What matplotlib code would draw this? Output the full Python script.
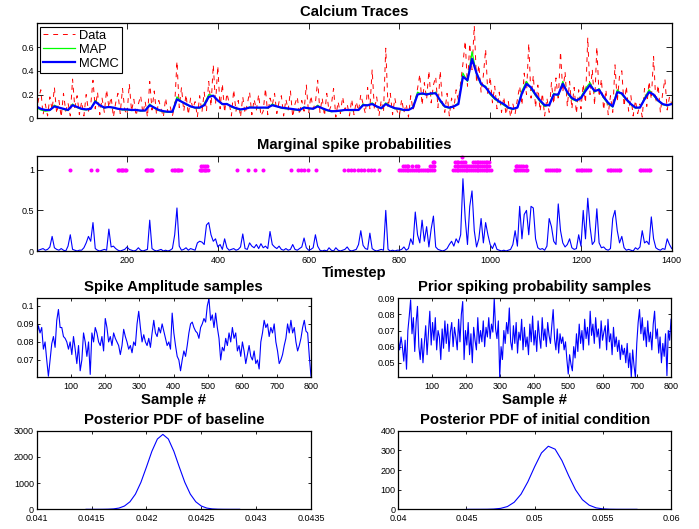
import numpy as np
import matplotlib
matplotlib.use("Agg")
import matplotlib.pyplot as plt

plt.rcParams["font.family"] = ["Liberation Sans", "DejaVu Sans"]

# ─── Calcium traces (every 5 / 10 timesteps) ─────────────────────────────────
data_trace = [
    0.05, 0.16, 0.24, 0.03, 0.12, 0.02, 0.18, 0.07, 0.26, 0.04, 0.15, 0.01, 0.21, 0.06, 0.13, 0.02, 0.33, 0.09, 0.19, 0.03,
    0.14, 0.02, 0.20, 0.06, 0.11, 0.32, 0.08, 0.22, 0.03, 0.17, 0.05, 0.24, 0.09, 0.18, 0.01, 0.13, 0.21, 0.04, 0.25, 0.07,
    0.03, 0.29, 0.06, 0.16, 0.02, 0.12, 0.19, 0.04, 0.14, 0.01, 0.31, 0.07, 0.23, 0.03, 0.15, 0.08, 0.01, 0.17, 0.05, 0.10,
    0.02, 0.11, 0.48, 0.09, 0.26, 0.06, 0.20, 0.03, 0.17, 0.08, 0.14, 0.01, 0.19, 0.05, 0.22, 0.06, 0.31, 0.10, 0.45, 0.12,
    0.44, 0.08, 0.29, 0.05, 0.21, 0.13, 0.02, 0.24, 0.06, 0.15, 0.01, 0.18, 0.04, 0.12, 0.22, 0.03, 0.16, 0.07, 0.20, 0.02,
    0.06, 0.25, 0.03, 0.17, 0.11, 0.21, 0.04, 0.14, 0.19, 0.02, 0.16, 0.07, 0.23, 0.01, 0.12, 0.18, 0.03, 0.15, 0.06, 0.28,
    0.04, 0.19, 0.08, 0.13, 0.32, 0.05, 0.17, 0.02, 0.21, 0.06, 0.11, 0.25, 0.01, 0.14, 0.04, 0.18, 0.07, 0.12, 0.02, 0.16,
    0.03, 0.14, 0.06, 0.20, 0.12, 0.04, 0.26, 0.08, 0.41, 0.07, 0.18, 0.02, 0.15, 0.05, 0.59, 0.09, 0.21, 0.03, 0.17, 0.06,
    0.02, 0.16, 0.05, 0.12, 0.01, 0.19, 0.07, 0.14, 0.25, 0.37, 0.11, 0.30, 0.16, 0.40, 0.13, 0.28, 0.35, 0.09, 0.40, 0.12,
    0.05, 0.21, 0.02, 0.17, 0.08, 0.24, 0.15, 0.30, 0.46, 0.65, 0.27, 0.63, 0.41, 0.78, 0.30, 0.45, 0.22, 0.36, 0.58, 0.19,
    0.35, 0.13, 0.27, 0.08, 0.22, 0.05, 0.18, 0.03, 0.14, 0.01, 0.12, 0.04, 0.16, 0.27, 0.11, 0.38, 0.20, 0.63, 0.17, 0.36,
    0.09, 0.28, 0.06, 0.21, 0.02, 0.17, 0.05, 0.30, 0.12, 0.34, 0.15, 0.56, 0.22, 0.39, 0.10, 0.31, 0.08, 0.26, 0.04, 0.24,
    0.08, 0.29, 0.13, 0.68, 0.20, 0.41, 0.11, 0.60, 0.18, 0.33, 0.07, 0.24, 0.03, 0.19, 0.05, 0.45, 0.14, 0.36, 0.40, 0.10,
    0.27, 0.06, 0.19, 0.02, 0.15, 0.04, 0.12, 0.01, 0.25, 0.10, 0.31, 0.16, 0.52, 0.13, 0.28, 0.05, 0.21, 0.33, 0.07, 0.18,
    0.12,
]
map_trace = [
    0.09, 0.07, 0.06, 0.065, 0.11, 0.09, 0.075, 0.065, 0.12, 0.09,
    0.075, 0.07, 0.08, 0.15, 0.11, 0.085, 0.10, 0.085, 0.08, 0.07,
    0.07, 0.065, 0.07, 0.06, 0.065, 0.12, 0.085, 0.065, 0.055, 0.05,
    0.05, 0.18, 0.14, 0.115, 0.10, 0.085, 0.085, 0.12, 0.20, 0.19,
    0.15, 0.115, 0.125, 0.095, 0.08, 0.07, 0.08, 0.095, 0.09, 0.085,
    0.09, 0.085, 0.12, 0.10, 0.085, 0.08, 0.08, 0.07, 0.065, 0.095,
    0.08, 0.08, 0.11, 0.08, 0.065, 0.055, 0.06, 0.06, 0.07, 0.065,
    0.065, 0.07, 0.12, 0.105, 0.13, 0.095, 0.08, 0.13, 0.10, 0.08,
    0.075, 0.065, 0.07, 0.095, 0.22, 0.20, 0.21, 0.20, 0.22, 0.14,
    0.095, 0.085, 0.10, 0.13, 0.38, 0.31, 0.56, 0.37, 0.28, 0.27,
    0.20, 0.16, 0.135, 0.11, 0.085, 0.075, 0.09, 0.23, 0.31, 0.25,
    0.19, 0.14, 0.10, 0.115, 0.21, 0.19, 0.31, 0.21, 0.16, 0.145,
    0.18, 0.25, 0.30, 0.22, 0.25, 0.17, 0.12, 0.095, 0.24, 0.20,
    0.155, 0.115, 0.085, 0.09, 0.17, 0.24, 0.19, 0.145, 0.115, 0.105,
    0.125,
]
mcmc_trace = [
    0.10, 0.08, 0.07, 0.07, 0.10, 0.09, 0.08, 0.07, 0.11, 0.095,
    0.08, 0.075, 0.08, 0.14, 0.11, 0.09, 0.095, 0.09, 0.08, 0.075,
    0.075, 0.07, 0.07, 0.065, 0.065, 0.11, 0.09, 0.07, 0.06, 0.055,
    0.055, 0.16, 0.14, 0.12, 0.10, 0.09, 0.09, 0.11, 0.18, 0.19,
    0.15, 0.12, 0.12, 0.10, 0.085, 0.075, 0.08, 0.09, 0.09, 0.09,
    0.09, 0.09, 0.11, 0.10, 0.09, 0.085, 0.08, 0.075, 0.07, 0.09,
    0.085, 0.08, 0.10, 0.085, 0.07, 0.06, 0.06, 0.065, 0.07, 0.07,
    0.07, 0.07, 0.11, 0.11, 0.12, 0.10, 0.085, 0.12, 0.10, 0.085,
    0.08, 0.07, 0.07, 0.09, 0.20, 0.21, 0.20, 0.21, 0.21, 0.15,
    0.10, 0.09, 0.10, 0.12, 0.35, 0.32, 0.50, 0.38, 0.29, 0.26,
    0.21, 0.17, 0.14, 0.12, 0.09, 0.08, 0.09, 0.21, 0.29, 0.26,
    0.20, 0.15, 0.11, 0.11, 0.20, 0.20, 0.29, 0.22, 0.17, 0.15,
    0.17, 0.23, 0.28, 0.23, 0.24, 0.18, 0.13, 0.10, 0.22, 0.21,
    0.16, 0.12, 0.09, 0.09, 0.16, 0.22, 0.20, 0.15, 0.12, 0.11,
    0.12,
]

# ─── Marginal spike probability (every 5 timesteps) ─────────────────────────
spike_prob = [
    0.00, 0.01, 0.02, 0.03, 0.01, 0.02, 0.05, 0.18, 0.04, 0.02, 0.01, 0.03, 0.01, 0.00, 0.06, 0.20, 0.02, 0.01, 0.00, 0.01,
    0.01, 0.04, 0.10, 0.18, 0.12, 0.35, 0.03, 0.01, 0.00, 0.01, 0.02, 0.01, 0.27, 0.05, 0.06, 0.03, 0.01, 0.00, 0.01, 0.02,
    0.05, 0.02, 0.01, 0.00, 0.01, 0.04, 0.01, 0.00, 0.01, 0.02, 0.38, 0.03, 0.01, 0.00, 0.01, 0.02, 0.00, 0.01, 0.00, 0.01,
    0.03, 0.20, 0.53, 0.06, 0.01, 0.02, 0.04, 0.01, 0.03, 0.02, 0.01, 0.10, 0.12, 0.11, 0.08, 0.32, 0.35, 0.20, 0.12, 0.15,
    0.05, 0.08, 0.02, 0.15, 0.04, 0.01, 0.02, 0.03, 0.01, 0.02, 0.05, 0.21, 0.03, 0.02, 0.10, 0.06, 0.04, 0.08, 0.03, 0.09,
    0.04, 0.06, 0.03, 0.24, 0.08, 0.05, 0.03, 0.06, 0.02, 0.01, 0.03, 0.01, 0.02, 0.08, 0.02, 0.01, 0.03, 0.05, 0.16, 0.04,
    0.01, 0.02, 0.04, 0.20, 0.06, 0.01, 0.00, 0.01, 0.00, 0.04, 0.01, 0.00, 0.04, 0.01, 0.00, 0.01, 0.02, 0.05, 0.01, 0.00,
    0.01, 0.02, 0.08, 0.25, 0.07, 0.03, 0.02, 0.22, 0.03, 0.01, 0.00, 0.01, 0.02, 0.01, 0.50, 0.02, 0.00, 0.01, 0.00, 0.01,
    0.01, 0.02, 0.05, 0.01, 0.03, 0.15, 0.08, 0.48, 0.20, 0.10, 0.38, 0.12, 0.30, 0.05, 0.27, 0.43, 0.05, 0.02, 0.01, 0.00,
    0.01, 0.03, 0.08, 0.12, 0.06, 0.15, 0.10, 0.20, 0.89, 0.40, 0.08, 0.55, 0.74, 0.25, 0.05, 0.15, 0.40, 0.10, 0.35, 0.20,
    0.08, 0.03, 0.10, 0.02, 0.01, 0.00, 0.01, 0.00, 0.01, 0.02, 0.08, 0.25, 0.06, 0.55, 0.15, 0.45, 0.50, 0.20, 0.55, 0.53,
    0.15, 0.04, 0.02, 0.03, 0.01, 0.06, 0.40, 0.30, 0.12, 0.08, 0.58, 0.25, 0.10, 0.05, 0.08, 0.15, 0.04, 0.02, 0.03, 0.20,
    0.06, 0.50, 0.15, 0.65, 0.30, 0.08, 0.12, 0.52, 0.10, 0.04, 0.05, 0.02, 0.01, 0.03, 0.40, 0.50, 0.25, 0.10, 0.18, 0.04,
    0.01, 0.02, 0.01, 0.00, 0.04, 0.02, 0.05, 0.25, 0.10, 0.12, 0.08, 0.42, 0.15, 0.04, 0.02, 0.01, 0.03, 0.02, 0.15, 0.08,
    0.03,
]

# sampled spike times, stacked by how many samples agree
spikes_lvl1 = [75, 120, 134, 180, 183, 186, 189, 192, 195, 198, 241, 244, 247, 250, 253, 256,
               300, 303, 306, 309, 312, 315, 318, 360, 363, 366, 369, 372, 375, 378,
               443, 467, 481, 499, 562, 576, 583, 590, 599, 617,
               679, 686, 694, 701, 708, 716, 723, 730, 738, 745, 755,
               800, 804, 808, 812, 816, 820, 824, 828, 832, 836, 840, 844, 848, 852, 856, 860,
               864, 868, 872, 876, 918, 922, 926, 930, 934, 938, 942, 946, 950, 954, 958, 962,
               966, 970, 974, 978, 982, 986, 990, 994, 998, 1002,
               1054, 1058, 1062, 1066, 1070, 1074, 1078, 1082,
               1124, 1128, 1132, 1136, 1140, 1144, 1148, 1152,
               1191, 1195, 1199, 1203, 1207, 1211, 1215, 1219,
               1259, 1263, 1267, 1271, 1275, 1279, 1283, 1287,
               1329, 1333, 1337, 1341, 1345, 1349, 1353]
spikes_lvl2 = [364, 368, 372, 376, 808, 812, 816, 820, 828, 836, 842, 868, 872, 876,
               922, 926, 930, 934, 938, 942, 946, 950, 954, 958, 962, 966, 970, 974,
               978, 982, 986, 990, 994, 998, 1056, 1060, 1064, 1068, 1072, 1078]
spikes_lvl3 = [874, 876, 922, 926, 930, 936, 940, 944, 962, 966, 970, 974, 978,
               982, 986, 990, 994, 998]
spikes_lvl4 = [938]
spike_levels = [1.0, 1.05, 1.10, 1.155]

# ─── MCMC sample traces ─────────────────────────────────────────────────────
amp_samples = [
    0.083, 0.089, 0.085, 0.088, 0.076, 0.080, 0.070, 0.061, 0.070, 0.079, 0.083, 0.077, 0.092, 0.098, 0.088,
    0.088, 0.083, 0.082, 0.080, 0.076, 0.080, 0.073, 0.083, 0.076, 0.068, 0.078, 0.064, 0.070, 0.085, 0.080,
    0.072, 0.080, 0.062, 0.085, 0.080, 0.088, 0.085, 0.080, 0.078, 0.083, 0.075, 0.093, 0.088, 0.080, 0.083,
    0.078, 0.085, 0.082, 0.080, 0.078, 0.073, 0.078, 0.087, 0.083, 0.080, 0.076, 0.078, 0.074, 0.080, 0.078,
    0.090, 0.097, 0.088, 0.080, 0.084, 0.080, 0.078, 0.082, 0.077, 0.085, 0.092, 0.085, 0.083, 0.088, 0.085,
    0.090, 0.086, 0.082, 0.078, 0.080, 0.076, 0.096, 0.085, 0.078, 0.072, 0.070, 0.064, 0.070, 0.075, 0.072,
    0.078, 0.085, 0.090, 0.091, 0.088, 0.086, 0.085, 0.082, 0.088, 0.090, 0.093, 0.091, 0.100, 0.104, 0.092,
    0.095, 0.088, 0.096, 0.088, 0.082, 0.070, 0.077, 0.075, 0.082, 0.078, 0.085, 0.080, 0.088, 0.082, 0.085,
    0.075, 0.078, 0.072, 0.080, 0.075, 0.068, 0.073, 0.078, 0.072, 0.070, 0.075, 0.068, 0.070, 0.065, 0.080,
    0.085, 0.092, 0.088, 0.090, 0.083, 0.088, 0.085, 0.090, 0.080, 0.075, 0.068, 0.070, 0.073, 0.078, 0.082,
    0.090, 0.085, 0.092, 0.085, 0.088, 0.080, 0.075, 0.078, 0.082, 0.088, 0.092, 0.086, 0.085, 0.072, 0.061,
]
prior_samples = [
    0.065, 0.058, 0.066, 0.060, 0.051, 0.064, 0.046, 0.070, 0.079, 0.089, 0.068, 0.078, 0.057, 0.075, 0.085, 0.060, 0.052, 0.065, 0.050, 0.062,
    0.073, 0.055, 0.068, 0.082, 0.061, 0.075, 0.064, 0.078, 0.058, 0.070, 0.066, 0.052, 0.071, 0.059, 0.076, 0.062, 0.074, 0.057, 0.069, 0.075,
    0.060, 0.072, 0.066, 0.058, 0.077, 0.063, 0.080, 0.088, 0.052, 0.070, 0.061, 0.075, 0.055, 0.068, 0.050, 0.072, 0.064, 0.058, 0.078, 0.062,
    0.070, 0.063, 0.076, 0.060, 0.072, 0.066, 0.078, 0.065, 0.074, 0.069, 0.090, 0.071, 0.065, 0.076, 0.041, 0.060, 0.052, 0.070, 0.062, 0.075,
    0.068, 0.084, 0.063, 0.058, 0.073, 0.062, 0.075, 0.056, 0.069, 0.064, 0.077, 0.058, 0.072, 0.060, 0.066, 0.055, 0.074, 0.063, 0.079, 0.061,
    0.070, 0.057, 0.076, 0.066, 0.059, 0.078, 0.064, 0.071, 0.060, 0.075, 0.067, 0.062, 0.073, 0.083, 0.065, 0.058, 0.071, 0.056, 0.068, 0.062,
    0.066, 0.058, 0.063, 0.052, 0.043, 0.055, 0.049, 0.045, 0.060, 0.053, 0.068, 0.057, 0.074, 0.062, 0.070, 0.058, 0.077, 0.065, 0.072, 0.061,
    0.082, 0.067, 0.074, 0.062, 0.078, 0.066, 0.071, 0.059, 0.076, 0.064, 0.069, 0.073, 0.058, 0.077, 0.063, 0.068, 0.055, 0.072, 0.060, 0.066,
    0.057, 0.064, 0.052, 0.061, 0.055, 0.059, 0.050, 0.062, 0.047, 0.056, 0.041, 0.058, 0.048, 0.041, 0.062, 0.075, 0.083, 0.068, 0.078, 0.064,
    0.072, 0.060, 0.076, 0.063, 0.069, 0.058, 0.074, 0.082, 0.065, 0.071, 0.056, 0.066, 0.050, 0.062, 0.054, 0.068, 0.042, 0.070, 0.064, 0.077,
]

# ─── Posterior densities ────────────────────────────────────────────────────
baseline_x = [0.04145, 0.04150, 0.04155, 0.04160, 0.04165, 0.04170, 0.04175, 0.04180, 0.04185, 0.04190,
              0.04195, 0.04200, 0.04205, 0.04210, 0.04215, 0.04220, 0.04225, 0.04230, 0.04235, 0.04240,
              0.04245, 0.04250, 0.04255, 0.04260, 0.04265, 0.04270, 0.04275, 0.04280, 0.04285]
baseline_pdf = [0, 0, 0, 1, 5, 16, 48, 126, 288, 581, 1031, 1611, 2216, 2683, 2860,
                2683, 2216, 1611, 1031, 581, 288, 126, 48, 16, 5, 1, 0, 0, 0]
init_x = [0.0450, 0.0455, 0.0460, 0.0465, 0.0470, 0.0475, 0.0480, 0.0485, 0.0490, 0.0495,
          0.0500, 0.0505, 0.0510, 0.0515, 0.0520, 0.0525, 0.0530, 0.0535, 0.0540, 0.0545,
          0.0550, 0.0555, 0.0560, 0.0565, 0.0570, 0.0575]
init_pdf = [0, 0, 0.1, 0.3, 1.4, 4.8, 14, 36, 77, 140, 217, 287, 321, 306, 248, 170,
            99, 49, 21, 7.5, 2.3, 0.6, 0.1, 0, 0, 0]

TITLE = dict(fontsize=10.7, fontweight="bold", pad=5)
LABEL = dict(fontsize=10.7, fontweight="bold", labelpad=1)


def matlab_axes(ax, tick_len):
    ax.tick_params(direction="in", top=True, right=True, length=tick_len,
                   width=0.6, labelsize=6.5)
    ax.tick_params(axis="y", pad=2)
    ax.tick_params(axis="x", pad=3.5)
    for sp in ax.spines.values():
        sp.set_linewidth(0.9)


fig = plt.figure(figsize=(6.99, 5.29), dpi=100)

# ── Calcium traces ──────────────────────────────────────────────────────
ax1 = fig.add_axes([0.0525, 0.7764, 0.9085, 0.1796])
t5 = np.arange(len(data_trace)) * 5
t10 = np.arange(len(mcmc_trace)) * 10
ax1.plot(t5, data_trace, color="red", lw=0.7, linestyle=(0, (5, 5)), label="Data")
ax1.plot(np.arange(len(map_trace)) * 10, map_trace, color=(0, 1, 0), lw=0.9, label="MAP")
ax1.plot(t10, mcmc_trace, color="blue", lw=1.6, label="MCMC")
ax1.set_xlim(1, 1400)
ax1.set_ylim(0, 0.8)
ax1.set_xticks(range(200, 1401, 200))
ax1.set_xticklabels([])
ax1.set_yticks([0, 0.2, 0.4, 0.6])
ax1.set_yticklabels(["0", "0.2", "0.4", "0.6"])
matlab_axes(ax1, 4.5)
ax1.set_title("Calcium Traces", **TITLE)
leg = ax1.legend(loc="upper left", fontsize=9.3, fancybox=False, framealpha=1,
                 borderaxespad=0.25, handlelength=2.5, labelspacing=0.15,
                 borderpad=0.25, handletextpad=0.3)
leg.get_frame().set_edgecolor("black")
leg.get_frame().set_linewidth(0.8)

# ── Marginal spike probabilities ────────────────────────────────────────
ax2 = fig.add_axes([0.0525, 0.5255, 0.9085, 0.1796])
ax2.plot(t5, spike_prob, color="blue", lw=0.8)
for times, lvl in zip([spikes_lvl1, spikes_lvl2, spikes_lvl3, spikes_lvl4], spike_levels):
    ax2.plot(times, [lvl] * len(times), "o", color="magenta", ms=2.9, mew=0, clip_on=False)
ax2.set_xlim(1, 1400)
ax2.set_ylim(0, 1.17)
ax2.set_xticks(range(200, 1401, 200))
ax2.set_yticks([0, 0.5, 1])
ax2.set_yticklabels(["0", "0.5", "1"])
matlab_axes(ax2, 4.5)
ax2.set_title("Marginal spike probabilities", **TITLE)
ax2.set_xlabel("Timestep", **LABEL)

# ── Spike amplitude samples ─────────────────────────────────────────────
ax3 = fig.add_axes([0.0525, 0.2868, 0.3924, 0.1493])
ax3.plot(np.linspace(1, 800, len(amp_samples)), amp_samples, color="blue", lw=0.8)
ax3.set_xlim(1, 800)
ax3.set_ylim(0.0604, 0.1042)
ax3.set_xticks(range(100, 801, 100))
ax3.set_yticks([0.07, 0.08, 0.09, 0.1])
ax3.set_yticklabels(["0.07", "0.08", "0.09", "0.1"])
matlab_axes(ax3, 2.5)
ax3.set_title("Spike Amplitude samples", **TITLE)
ax3.set_xlabel("Sample #", **LABEL)

# ── Prior spiking probability samples ───────────────────────────────────
ax4 = fig.add_axes([0.5698, 0.2868, 0.3902, 0.1493])
ax4.plot(np.linspace(1, 800, len(prior_samples)), prior_samples, color="blue", lw=0.8)
ax4.set_xlim(1, 800)
ax4.set_ylim(0.041, 0.09)
ax4.set_xticks(range(100, 801, 100))
ax4.set_yticks([0.05, 0.06, 0.07, 0.08, 0.09])
ax4.set_yticklabels(["0.05", "0.06", "0.07", "0.08", "0.09"])
matlab_axes(ax4, 2.5)
ax4.set_title("Prior spiking probability samples", **TITLE)
ax4.set_xlabel("Sample #", **LABEL)

# ── Posterior PDF of baseline ───────────────────────────────────────────
ax5 = fig.add_axes([0.0525, 0.0372, 0.3924, 0.1486])
ax5.plot(baseline_x, baseline_pdf, color="blue", lw=0.8)
ax5.set_xlim(0.041, 0.0435)
ax5.set_ylim(0, 3000)
ax5.set_xticks([0.041, 0.0415, 0.042, 0.0425, 0.043, 0.0435])
ax5.set_xticklabels(["0.041", "0.0415", "0.042", "0.0425", "0.043", "0.0435"])
ax5.set_yticks([0, 1000, 2000, 3000])
matlab_axes(ax5, 2.5)
ax5.set_title("Posterior PDF of baseline", **TITLE)

# ── Posterior PDF of initial condition ──────────────────────────────────
ax6 = fig.add_axes([0.5698, 0.0372, 0.3902, 0.1486])
ax6.plot(init_x, init_pdf, color="blue", lw=0.8)
ax6.set_xlim(0.04, 0.06)
ax6.set_ylim(0, 400)
ax6.set_xticks([0.04, 0.045, 0.05, 0.055, 0.06])
ax6.set_xticklabels(["0.04", "0.045", "0.05", "0.055", "0.06"])
ax6.set_yticks([0, 100, 200, 300, 400])
matlab_axes(ax6, 2.5)
ax6.set_title("Posterior PDF of initial condition", **TITLE)

fig.savefig("out.png", dpi=100)
plt.close(fig)
